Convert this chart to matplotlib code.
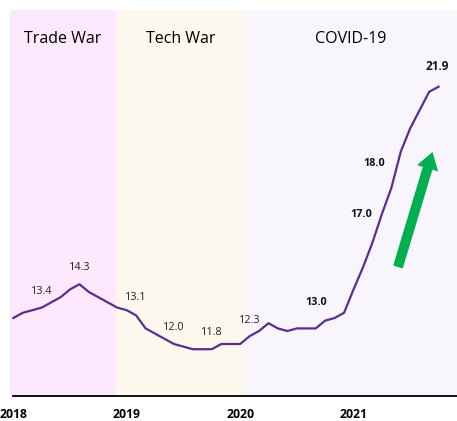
import numpy as np
import matplotlib
matplotlib.use("Agg")
import matplotlib.pyplot as plt
from matplotlib.patches import FancyArrow
from matplotlib.transforms import IdentityTransform

plt.rcParams['font.family'] = ['Open Sans', 'DejaVu Sans']

# monthly values, Jan 2018 .. Oct 2021
values = [13.0, 13.2, 13.3, 13.4, 13.6, 13.8, 14.1, 14.3, 14.0, 13.8, 13.6, 13.4,
          13.3, 13.1, 12.6, 12.4, 12.2, 12.0, 11.9, 11.8, 11.8, 11.8, 12.0, 12.0,
          12.0, 12.3, 12.5, 12.8, 12.6, 12.5, 12.6, 12.6, 12.6, 12.9, 13.0, 13.2,
          14.1, 14.95, 15.9, 17.0, 18.0, 19.4, 20.3, 21.0, 21.7, 21.9]
year_labels = ['2018', '2019', '2020', '2021']
year_index = [0, 12, 24, 36]
periods = ['Trade War', 'Tech War', 'COVID-19']
period_bounds = [(-0.35, 10.9), (10.9, 24.5), (24.5, 46.95)]
period_colors = ['#fde8fd', '#fdf8ee', '#f8f6fc']

# labelled points: (month index, text, bold, offset px)
point_labels = [
    (3, '13.4', False, (0, 16)),
    (7, '14.3', False, (0, 17)),
    (13, '13.1', False, (0, 18)),
    (17, '12.0', False, (0, 17)),
    (21, '11.8', False, (0, 17)),
    (25, '12.3', False, (0, 16)),
    (34, '13.0', True, (-18, 16)),
    (39, '17.0', True, (-21, 0)),
    (40, '18.0', True, (-17, 25)),
    (45, '21.9', True, (-1, 20)),
]

fig = plt.figure(figsize=(4.57, 4.21), dpi=100)
ax = fig.add_axes([10/457, 25/421, 447/457, 386/421])
x = np.arange(len(values))

for (a, b), c, name in zip(period_bounds, period_colors, periods):
    ax.axvspan(a, b, color=c, zorder=0, lw=0)
    ax.text((a + b) / 2, 23.73, name, ha='center', va='center', fontsize=11.5,
            color='#000000')

ax.plot(x, values, color='#5b2d8e', lw=1.6, zorder=3)

for i, t, bold, off in point_labels:
    ax.annotate(t, (x[i], values[i]), xytext=off, textcoords='offset pixels',
                ha='center', va='center',
                fontsize=(8.5 if i == 45 else 7.8) if bold else 7.8,
                fontweight='bold' if bold else 'normal',
                color='#111111' if bold else '#222222', zorder=4)

ax.set_xlim(-0.35, 46.95)
ax.set_ylim(10, 24.85)
ax.set_yticks([])
ax.set_xticks(year_index)
ax.set_xticklabels(year_labels, fontweight='bold', fontsize=8.8)
ax.tick_params(axis='x', length=0, pad=8.5)
for s in ['left', 'right', 'top']:
    ax.spines[s].set_visible(False)
ax.spines['bottom'].set_linewidth(1.3)
ax.spines['bottom'].set_bounds(0, 46.95)

# green arrow in figure pixels
tail = (398, 421 - 267)
tip = (432.5, 421 - 152)
arr = FancyArrow(tail[0], tail[1], tip[0] - tail[0], tip[1] - tail[1],
                 width=10, head_width=22, head_length=17,
                 length_includes_head=True, color='#00b050', lw=0,
                 transform=IdentityTransform())
fig.add_artist(arr)

fig.savefig('out.png', dpi=100)
